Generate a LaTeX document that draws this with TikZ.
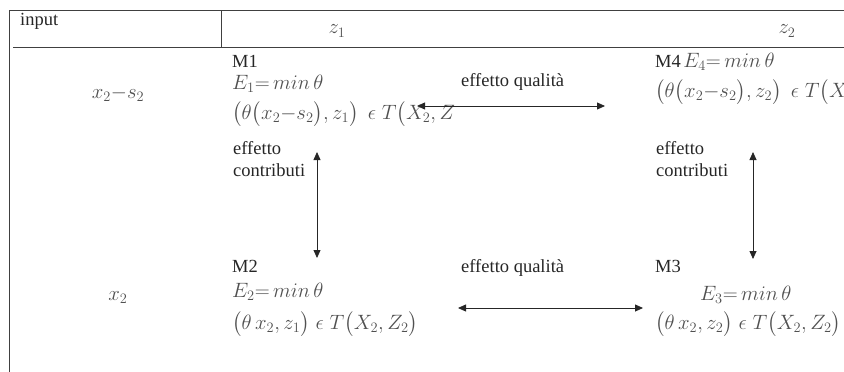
\documentclass[tikz,border=0pt]{standalone}
\usepackage{amsmath}
\usepackage{fontspec}
\setmainfont{Liberation Serif}
\usepackage{xcolor}
\usepackage{tikz}
\usetikzlibrary{positioning,arrows.meta}
\definecolor{txtgray}{HTML}{262626}
\definecolor{mathgray}{HTML}{505050}
\definecolor{rulegray}{HTML}{404040}

\begin{document}
\begin{tikzpicture}[
  x=1pt, y=-1pt,
  >={Triangle[length=8pt,width=7pt]},
  lbl/.style={inner sep=0pt, anchor=base west, text=txtgray, font=\fontsize{18.5}{22}\selectfont},
  eq/.style={inner sep=0pt, anchor=base west, text=mathgray, font=\fontsize{22}{26}\selectfont},
  hd/.style={inner sep=0pt, anchor=base, text=mathgray, font=\fontsize{22}{26}\selectfont},
  rule/.style={draw=rulegray, line width=0.9pt},
  link/.style={<->, line width=0.8pt, draw=black!85},
]
\useasboundingbox (0,0) rectangle (844,372);
\draw[rule] (9.5,372) -- (9.5,10.5) -- (844,10.5);
\draw[rule] (13,47.5) -- (844,47.5);
\draw[rule] (221,10.5) -- (221,47.5);
\node[lbl] (input) at (20,25) {input};
\node[hd] (z1) at (337,34) {$z_1$};
\node[hd] (z2) at (787,34) {$z_2$};
\node[hd] (row1) at (118,98) {$x_2{-}s_2$};
\node[hd] (row2) at (118,300) {$x_2$};
\node[lbl] (m1) at (232,67) {M1};
\node[eq] (e1) at (232,89) {$E_1{=}\,min\,\theta$};
\node[eq] (t1) at (232,119) {$\bigl(\theta\bigl(x_2{-}s_2\bigr),z_1\bigr)\;\,\epsilon\; T\bigl(X_2,Z$};
\node[lbl] (m4) at (655,67) {M4};
\node[eq, right=2pt of m4.base east, anchor=base west] (e4) {$E_4{=}\,min\,\theta$};
\node[eq] (t4) at (655,97) {$\bigl(\theta\bigl(x_2{-}s_2\bigr),z_2\bigr)\;\,\epsilon\; T\bigl(X$};
\node[lbl] (q1) at (461,86) {effetto qualità};
\node[lbl, align=left] (c1) at (233,176) {effetto\\contributi};
\node[lbl, align=left] (c2) at (656,176) {effetto\\contributi};
\node[lbl] (m2) at (232,272) {M2};
\node[eq] (e2) at (232,297) {$E_2{=}\,min\,\theta$};
\node[eq] (t2) at (232,329) {$\bigl(\theta\, x_2,z_1\bigr)\;\epsilon\; T\bigl(X_2,Z_2\bigr)$};
\node[lbl] (q2) at (461,272) {effetto qualità};
\node[lbl] (m3) at (655,272) {M3};
\node[eq] (e3) at (700,300) {$E_3{=}\,min\,\theta$};
\node[eq] (t3) at (655,329) {$\bigl(\theta\, x_2,z_2\bigr)\;\epsilon\; T\bigl(X_2,Z_2\bigr)$};
\coordinate (q1a) at (417,106);
\coordinate (q1b) at (605,106);
\coordinate (q2a) at (458,308);
\coordinate (q2b) at (643,308);
\coordinate (c1a) at (317,152);
\coordinate (c1b) at (317,258);
\coordinate (c2a) at (753,152);
\coordinate (c2b) at (753,259);
\draw[link] (q1a) -- (q1b);
\draw[link] (q2a) -- (q2b);
\draw[link] (c1a) -- (c1b);
\draw[link] (c2a) -- (c2b);
\end{tikzpicture}
\end{document}
